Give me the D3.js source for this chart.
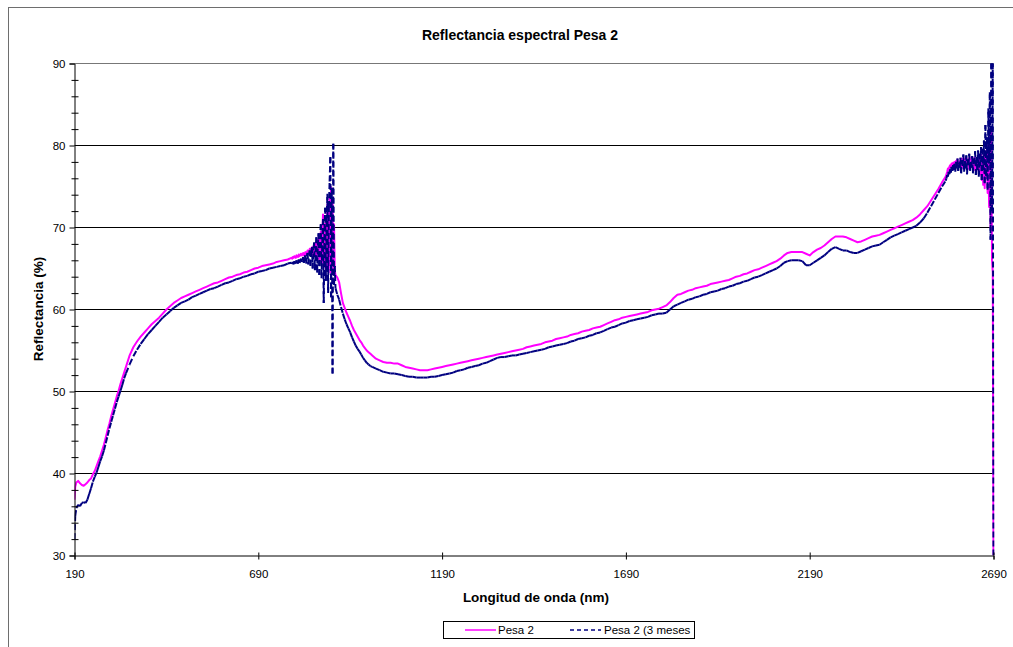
<!DOCTYPE html>
<html>
<head>
<meta charset="utf-8">
<script src="https://cdn.jsdelivr.net/npm/d3@7"></script>
<style>
  html, body { margin: 0; padding: 0; background: #fff; }
  svg { display: block; font-family: "Liberation Sans", Arial, sans-serif; }
</style>
</head>
<body>
<svg id="chart" width="1013" height="647"></svg>
<script>
// Wavelength grid (nm), grouped in bands
const wavelength = [
  190,192,195,200,205,210,215,220,225,230,235,240,245,250,255,260,265,270,275,280,285,290,295,300,305,310,315,320,325,330,
  340,350,360,370,380,390,400,410,420,430,440,450,460,470,480,490,500,510,520,530,540,550,560,570,580,590,600,610,620,630,640,650,660,670,680,690,700,710,720,730,740,750,760,770,
  780,782,784,786,788,790,792,794,796,798,
  800,802,804,806,808,810,812,814,816,818,
  820,822,824,826,828,830,832,834,836,838,
  840,842,844,846,848,850,852,854,856,858,
  860,862,864,866,868,870,872,874,876,878,
  880,882,884,886,888,890,892,894,896,898,
  900,
  905,910,915,920,925,930,935,940,945,950,955,960,965,970,975,980,985,990,995,1000,
  1010,1020,1030,1040,1050,1060,1070,1080,1090,1100,
  1110,1120,1130,1140,1150,1160,1170,1180,1190,1200,
  1210,1220,1230,1240,1250,1260,1270,1280,1290,1300,
  1310,1320,1330,1340,1350,1360,1370,1380,1390,1400,
  1410,1420,1430,1440,1450,1460,1470,1480,1490,1500,
  1510,1520,1530,1540,1550,1560,1570,1580,1590,1600,
  1610,1620,1630,1640,1650,1660,1670,1680,1690,1700,
  1710,1720,1730,1740,1750,1760,1770,1780,1790,1800,
  1810,1820,1830,1840,1850,1860,1870,1880,1890,1900,
  1910,1920,1930,1940,1950,1960,1970,1980,1990,2000,
  2010,2020,2030,2040,2050,2060,2070,2080,2090,2100,
  2110,2120,2130,2140,2150,2160,2170,2180,2190,2200,
  2210,2220,2230,2240,2250,2260,2270,2280,2290,2300,
  2310,2320,2330,2340,2350,2360,2370,2380,2390,2400,
  2410,2420,2430,2440,2450,2460,2470,2480,2490,2500,
  2510,2520,2530,2540,2550,2560,
  2562,2564,2566,2568,2570,2572,2574,2576,2578,2580,
  2582,2584,2586,2588,2590,2592,2594,2596,2598,2600,
  2602,2604,2606,2608,2610,2612,2614,2616,2618,2620,
  2622,2624,2626,2628,2630,2632,2634,2636,2638,2640,
  2642,2644,2646,2648,2650,2652,2654,2656,2658,2660,
  2662,2664,2666,2668,2670,2672,2674,2676,2678,2680,
  2682,2684,2686,2688,2690
];

// Reflectance (%) – "Pesa 2"
const pesa2 = [
  36.8,38.4,38.9,39.1,38.8,38.6,38.5,38.7,38.9,39.2,39.4,39.9,40.3,40.9,41.5,42.1,42.8,43.5,44.4,45.3,46.1,47.0,47.8,48.6,49.4,50.1,50.9,51.6,52.3,53.0,
  54.4,55.4,56.1,56.7,57.2,57.7,58.2,58.6,59.0,59.5,60.0,60.4,60.8,61.1,61.4,61.6,61.8,62.0,62.2,62.4,62.6,62.8,63.0,63.2,63.3,63.5,63.7,63.9,64.0,64.2,64.3,64.5,64.6,64.8,65.0,65.1,65.3,65.4,65.5,65.6,65.8,65.9,66.0,66.1,
  66.3,66.2,66.4,66.3,66.5,66.4,66.3,66.6,66.5,66.4,
  66.7,66.5,66.6,66.8,66.6,66.7,66.9,66.6,66.8,67.0,
  66.7,66.9,67.2,66.8,67.0,67.4,66.7,67.3,67.6,66.6,
  67.5,67.9,66.5,67.8,68.3,66.4,68.0,68.8,66.0,68.4,
  69.5,65.6,68.9,71.6,65.2,69.3,70.5,64.8,70.1,72.8,
  64.9,71.2,73.6,64.5,74.9,65.8,73.2,64.6,70.4,64.8,
  64.2,
  63.9,63.3,62.0,60.8,60.2,59.6,59.1,58.6,58.0,57.5,57.1,56.7,56.3,56.0,55.6,55.3,55.0,54.8,54.6,54.4,
  54.0,53.8,53.6,53.5,53.5,53.4,53.4,53.2,53.0,52.9,
  52.8,52.7,52.6,52.6,52.6,52.7,52.8,52.9,53.0,53.1,
  53.2,53.3,53.4,53.5,53.6,53.7,53.8,53.9,54.0,54.1,
  54.2,54.3,54.4,54.5,54.6,54.7,54.8,54.9,55.0,55.1,
  55.2,55.4,55.5,55.6,55.7,55.8,56.0,56.1,56.2,56.4,
  56.5,56.6,56.7,56.9,57.0,57.1,57.3,57.4,57.5,57.7,
  57.8,57.9,58.1,58.3,58.5,58.7,58.8,59.0,59.1,59.2,
  59.3,59.4,59.5,59.6,59.7,59.9,60.0,60.1,60.3,60.5,
  60.9,61.4,61.8,61.9,62.1,62.3,62.4,62.6,62.7,62.8,
  62.9,63.1,63.2,63.3,63.4,63.5,63.6,63.8,64.0,64.1,
  64.3,64.4,64.6,64.8,64.9,65.1,65.3,65.5,65.7,65.9,
  66.2,66.6,66.9,67.0,67.0,67.0,67.0,66.8,66.6,67.0,
  67.3,67.5,67.8,68.2,68.6,68.9,68.9,68.9,68.8,68.6,
  68.4,68.2,68.3,68.5,68.7,68.9,69.0,69.1,69.3,69.5,
  69.7,69.9,70.1,70.3,70.5,70.7,70.9,71.2,71.6,72.1,
  72.6,73.3,74.0,74.7,75.5,76.2,
  76.5,76.8,77.2,77.0,77.4,77.6,77.3,77.8,77.5,77.9,
  77.6,78.0,77.4,78.1,77.7,78.3,77.5,78.0,77.6,78.2,
  77.4,78.4,77.8,77.2,78.3,77.6,78.5,77.3,78.0,77.7,
  78.4,77.1,78.2,77.6,78.6,77.4,78.1,77.0,78.5,77.8,
  76.9,78.3,77.5,78.8,76.8,78.5,76.5,78.9,75.8,78.4,
  75.2,79.0,74.8,78.7,76.0,79.5,74.2,80.0,72.5,81.5,
  70.0,82.0,66.0,64.5,30.0
];

// Reflectance (%) – "Pesa 2 (3 meses"
const pesa2TresMeses = [
  32.0,34.8,35.8,36.2,36.0,36.4,36.5,36.4,36.8,37.5,38.2,39.0,39.6,40.1,40.8,41.5,42.1,42.8,43.7,44.6,45.5,46.3,47.1,47.9,48.7,49.4,50.1,50.8,51.6,52.2,
  53.3,54.3,55.1,55.8,56.4,57.0,57.5,58.0,58.5,59.0,59.4,59.8,60.2,60.5,60.8,61.0,61.2,61.5,61.7,61.9,62.1,62.3,62.5,62.6,62.8,63.0,63.2,63.3,63.5,63.7,63.8,64.0,64.1,64.3,64.4,64.6,64.7,64.8,65.0,65.1,65.2,65.3,65.4,65.6,
  65.7,65.6,65.8,65.5,65.9,65.7,65.6,66.0,65.8,65.6,
  66.1,65.7,65.9,66.2,65.8,66.0,66.4,65.7,66.3,66.6,
  65.6,66.5,66.9,65.5,66.7,67.2,65.3,67.0,67.6,65.0,
  67.4,68.2,64.8,67.0,68.8,64.5,67.8,69.3,64.2,68.6,
  70.4,63.8,68.1,71.0,60.8,69.7,72.4,63.5,70.8,74.1,
  62.0,72.5,75.6,78.6,61.5,74.8,52.2,80.2,63.0,65.3,
  62.6,
  61.8,61.2,60.3,59.5,58.8,58.2,57.7,57.2,56.6,56.1,55.6,55.2,54.9,54.5,54.1,53.8,53.5,53.3,53.1,53.0,
  52.8,52.6,52.4,52.3,52.2,52.2,52.1,52.0,51.9,51.8,
  51.8,51.7,51.7,51.7,51.7,51.8,51.8,51.9,52.0,52.1,
  52.2,52.3,52.5,52.6,52.7,52.9,53.0,53.1,53.2,53.4,
  53.5,53.7,53.9,54.1,54.2,54.2,54.3,54.4,54.4,54.5,
  54.6,54.7,54.8,54.9,55.0,55.1,55.2,55.4,55.5,55.6,
  55.7,55.8,55.9,56.1,56.2,56.4,56.5,56.6,56.8,56.9,
  57.1,57.2,57.4,57.6,57.8,57.9,58.1,58.3,58.4,58.6,
  58.7,58.8,58.9,59.0,59.1,59.3,59.4,59.5,59.5,59.6,
  60.0,60.4,60.6,60.8,61.0,61.2,61.3,61.5,61.6,61.8,
  61.9,62.1,62.2,62.3,62.5,62.6,62.8,62.9,63.1,63.2,
  63.4,63.5,63.7,63.9,64.0,64.2,64.4,64.6,64.8,65.0,
  65.3,65.7,65.9,66.0,66.0,66.0,65.9,65.4,65.4,65.7,
  66.0,66.3,66.6,67.0,67.4,67.6,67.4,67.2,67.2,67.0,
  66.9,66.9,67.1,67.3,67.5,67.7,67.8,67.9,68.2,68.5,
  68.8,69.0,69.2,69.4,69.6,69.8,70.0,70.2,70.6,71.1,
  71.8,72.6,73.4,74.2,75.0,75.7,
  76.0,76.4,76.2,76.8,76.5,77.1,76.7,77.4,76.9,77.6,
  77.0,77.8,76.8,78.0,77.2,78.4,76.9,77.9,77.3,78.5,
  76.6,78.2,77.5,78.9,76.8,78.1,77.2,78.8,76.5,78.3,
  77.6,79.0,76.9,78.0,77.3,78.7,76.6,78.4,77.8,79.3,
  76.4,78.6,77.0,79.4,76.2,79.0,77.5,79.8,75.8,79.6,
  77.0,80.6,75.4,82.5,76.3,81.0,74.6,84.5,77.8,86.5,
  68.5,90.0,72.0,90.0,30.0
];

// Axis ticks and labels
const xTicks = [190, 690, 1190, 1690, 2190, 2690];
const yTicks = [30, 40, 50, 60, 70, 80, 90];
const yMinorTicks = [32,34,36,38,42,44,46,48,52,54,56,58,62,64,66,68,72,74,76,78,82,84,86,88];
const gridValues = [40, 50, 60, 70, 80, 90];

const seriesNames = ["Pesa 2", "Pesa 2 (3 meses"];
const titleText = "Reflectancia espectral Pesa 2";
const xTitle = "Longitud de onda (nm)";
const yTitle = "Reflectancia (%)";

const svg = d3.select("#chart");
const W = 1013, H = 647;
const plot = { left: 74.5, right: 993.5, top: 63.5, bottom: 555.5 };

const x = d3.scaleLinear().domain([190, 2690]).range([plot.left, plot.right]);
const y = d3.scaleLinear().domain([30, 90]).range([plot.bottom, plot.top]);

// Outer frame
svg.append("rect").attr("x", 0).attr("y", 0).attr("width", W).attr("height", H).attr("fill", "#fff");
svg.append("rect")
  .attr("x", 8.5).attr("y", 7.5).attr("width", W + 10).attr("height", H + 10)
  .attr("fill", "none").attr("stroke", "#6e6e6e").attr("stroke-width", 1);

// Title
svg.append("text")
  .attr("x", 520).attr("y", 40)
  .attr("text-anchor", "middle")
  .attr("font-size", 14).attr("font-weight", "bold")
  .text(titleText);

// Horizontal gridlines
svg.append("g").selectAll("line").data(gridValues).join("line")
  .attr("x1", plot.left).attr("x2", plot.right)
  .attr("y1", d => y(d)).attr("y2", d => y(d))
  .attr("stroke", d => d === 90 ? "#777" : "#000").attr("stroke-width", 1);

// Clip to the plot area
svg.append("defs").append("clipPath").attr("id", "plotClip")
  .append("rect")
  .attr("x", plot.left).attr("y", plot.top - 1)
  .attr("width", plot.right - plot.left + 1).attr("height", plot.bottom - plot.top + 1);

const points = (vals) => wavelength.map((w, i) => [w, vals[i]]);

const series = svg.append("g").attr("clip-path", "url(#plotClip)");

// "Pesa 2": solid magenta
series.append("path")
  .datum(points(pesa2))
  .attr("fill", "none")
  .attr("stroke", "#ff00ff")
  .attr("stroke-width", 2)
  .attr("stroke-linejoin", "round")
  .attr("d", d3.line().x(d => x(d[0])).y(d => y(d[1])));

// "Pesa 2 (3 meses": navy dashed, pattern restarting on every segment
const navyPts = points(pesa2TresMeses);
const navySegs = d3.pairs(navyPts);
series.append("g").selectAll("line").data(navySegs).join("line")
  .attr("x1", d => x(d[0][0])).attr("y1", d => y(d[0][1]))
  .attr("x2", d => x(d[1][0])).attr("y2", d => y(d[1][1]))
  .attr("stroke", "#000080")
  .attr("stroke-width", 2)
  .attr("stroke-dasharray", "6,3");

// Y axis with major (outward) and minor (crossing) ticks
const yAxis = svg.append("g")
  .attr("transform", `translate(${plot.left},0)`)
  .call(d3.axisLeft(y).tickValues(yTicks).tickSize(5).tickPadding(4).tickFormat(d3.format("d")));
yAxis.select(".domain").attr("stroke", "#000");
yAxis.selectAll("text").attr("font-size", 11.5).attr("font-family", "Liberation Sans, Arial, sans-serif").attr("fill", "#000");

svg.append("g")
  .attr("transform", `translate(${plot.left - 3},0)`)
  .call(d3.axisRight(y).tickValues(yMinorTicks).tickSize(7).tickFormat(""))
  .select(".domain").remove();

// X axis
const xAxis = svg.append("g")
  .attr("transform", `translate(0,${plot.bottom})`)
  .call(d3.axisBottom(x).tickValues(xTicks).tickSize(4).tickPadding(10).tickFormat(d3.format("d")));
xAxis.select(".domain").attr("stroke", "#000");
xAxis.selectAll("text").attr("font-size", 11.5).attr("font-family", "Liberation Sans, Arial, sans-serif").attr("fill", "#000");

svg.append("g")
  .attr("transform", `translate(0,${plot.bottom})`)
  .call(d3.axisTop(x).tickValues(xTicks).tickSize(3).tickFormat(""))
  .select(".domain").remove();

// Axis titles
svg.append("text")
  .attr("x", 536).attr("y", 602)
  .attr("text-anchor", "middle")
  .attr("font-size", 13.5).attr("font-weight", "bold")
  .text(xTitle);

svg.append("text")
  .attr("transform", "translate(43,309) rotate(-90)")
  .attr("text-anchor", "middle")
  .attr("font-size", 13.5).attr("font-weight", "bold")
  .text(yTitle);

// Legend
const legend = svg.append("g");
legend.append("rect")
  .attr("x", 443.5).attr("y", 621.5).attr("width", 251).attr("height", 17)
  .attr("fill", "#fff").attr("stroke", "#000").attr("stroke-width", 1);

const legendItems = [
  { name: seriesNames[0], color: "#ff00ff", dash: null, x0: 465, x1: 496, tx: 498 },
  { name: seriesNames[1], color: "#000080", dash: "4,3", x0: 570, x1: 601, tx: 604 }
];
legendItems.forEach(it => {
  legend.append("line")
    .attr("x1", it.x0).attr("x2", it.x1).attr("y1", 630).attr("y2", 630)
    .attr("stroke", it.color).attr("stroke-width", 1.5)
    .attr("stroke-dasharray", it.dash);
  legend.append("text")
    .attr("x", it.tx).attr("y", 634)
    .attr("font-size", 11.5)
    .text(it.name);
});
</script>
</body>
</html>
